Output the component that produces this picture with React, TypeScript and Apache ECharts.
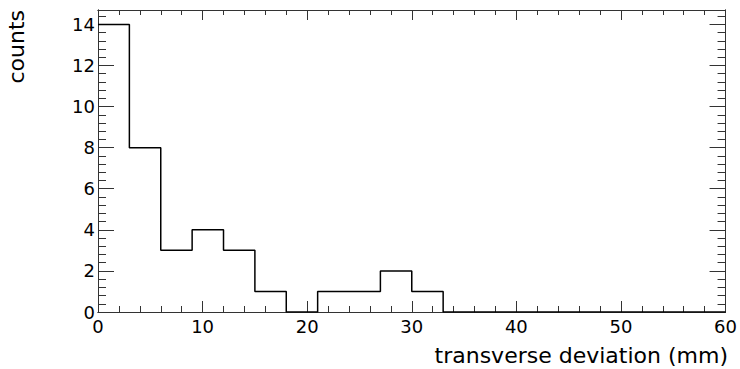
import React, { useEffect, useRef } from "react";
import * as echarts from "echarts";

const binWidth = 3;
const counts = [14, 8, 3, 4, 3, 1, 0, 1, 1, 2, 1, 0, 0, 0, 0, 0, 0, 0, 0, 0];
const xTickLabels = [0, 10, 20, 30, 40, 50, 60];
const yTickLabels = [0, 2, 4, 6, 8, 10, 12, 14];
const xTitle = "transverse deviation (mm)";
const yTitle = "counts";

const FONT = "DejaVu Sans";
const AXIS_COLOR = "#333";

export default function App() {
  const ref = useRef<HTMLDivElement>(null);
  useEffect(() => {
    if (!ref.current) return;
    const chart = echarts.init(ref.current, null, { renderer: "svg" });
    const xMin = xTickLabels[0];
    const xMax = xTickLabels[xTickLabels.length - 1];
    const yMax = yTickLabels[yTickLabels.length - 1] * 1.05;

    const stepData: number[][] = counts.map((c, i) => [i * binWidth, c]);
    stepData.push([counts.length * binWidth, counts[counts.length - 1]]);

    const lineStyle = { color: AXIS_COLOR, width: 1 };
    const mkX = (pos: "bottom" | "top", major: boolean, labels: boolean) => ({
      type: "value",
      position: pos,
      min: xMin,
      max: xMax,
      interval: major ? 10 : 2,
      axisLine: { show: true, onZero: false, lineStyle },
      axisTick: {
        show: true,
        inside: true,
        length: major ? (pos === "bottom" ? 11 : 10) : (pos === "bottom" ? 6 : 5),
        lineStyle,
      },
      axisLabel: labels
        ? {
            show: true,
            inside: false,
            margin: 5,
            color: "#000",
            fontFamily: FONT,
            fontSize: 18,
          }
        : { show: false },
      splitLine: { show: false },
    });
    const mkY = (pos: "left" | "right", major: boolean, labels: boolean) => ({
      type: "value",
      position: pos,
      min: 0,
      max: yMax,
      interval: major ? 2 : 0.4,
      axisLine: { show: true, onZero: false, lineStyle },
      axisTick: {
        show: true,
        inside: true,
        length: major ? 16 : 8,
        lineStyle,
      },
      axisLabel: labels
        ? {
            show: true,
            margin: 3,
            color: "#000",
            fontFamily: FONT,
            fontSize: 18,
            formatter: (v: number) =>
              yTickLabels.includes(Math.round(v * 1000) / 1000) ? String(Math.round(v)) : "",
          }
        : { show: false },
      splitLine: { show: false },
    });

    chart.setOption({
      animation: false,
      backgroundColor: "#fff",
      grid: { left: 98, right: 11, top: 10, bottom: 57, containLabel: false },
      xAxis: [
        mkX("bottom", true, true),
        mkX("bottom", false, false),
        mkX("top", true, false),
        mkX("top", false, false),
      ],
      yAxis: [
        mkY("left", true, true),
        mkY("left", false, false),
        mkY("right", true, false),
        mkY("right", false, false),
      ],
      series: [
        {
          type: "line",
          step: "end",
          data: stepData,
          xAxisIndex: 0,
          yAxisIndex: 0,
          symbol: "none",
          lineStyle: { color: "#000", width: 1.5 },
          z: 10,
        },
      ],
      graphic: [
        {
          type: "text",
          x: 728,
          y: 366,
          style: {
            text: xTitle,
            font: `22px "${FONT}"`,
            fill: "#000",
            align: "right",
            verticalAlign: "bottom",
          },
        },
        {
          type: "text",
          x: 27,
          y: 10,
          rotation: Math.PI / 2,
          style: {
            text: yTitle,
            font: `22px "${FONT}"`,
            fill: "#000",
            align: "right",
            verticalAlign: "bottom",
          },
        },
      ],
    });
    return () => chart.dispose();
  }, []);
  return <div ref={ref} style={{ width: 740, height: 369, position: "absolute", left: 0, top: 0 }} />;
}
